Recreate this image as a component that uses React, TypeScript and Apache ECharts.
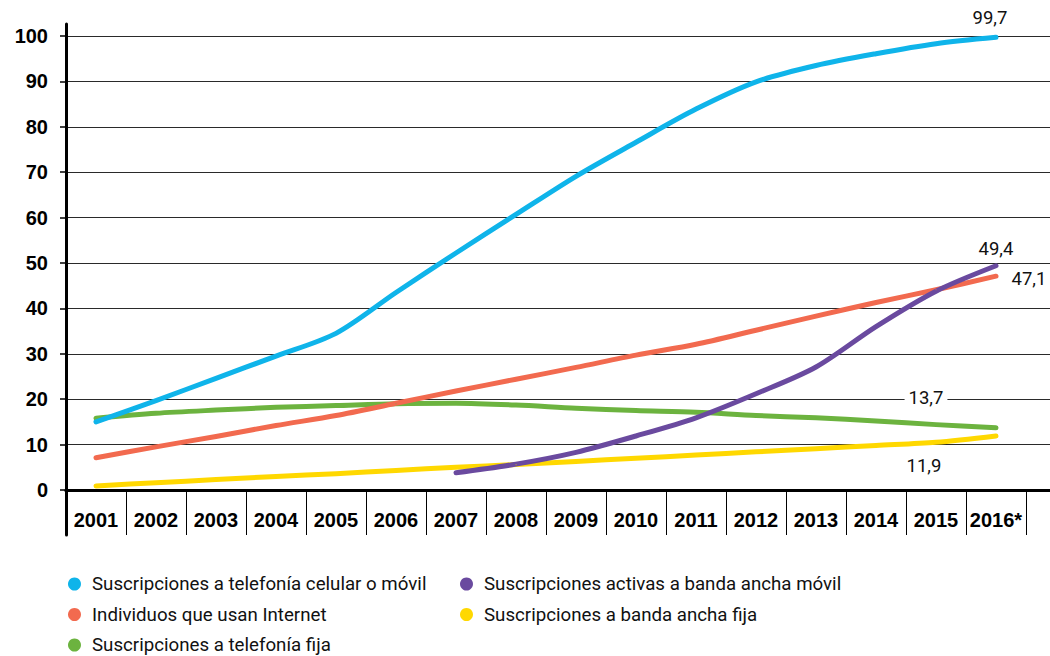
import React, { useEffect, useRef } from "react";
import * as echarts from "echarts";

const years = ["2001", "2002", "2003", "2004", "2005", "2006", "2007", "2008", "2009", "2010", "2011", "2012", "2013", "2014", "2015", "2016*"];

const movil = [15.0, 19.7, 24.6, 29.5, 34.5, 43.5, 52.2, 60.7, 69.1, 76.6, 83.9, 89.9, 93.5, 96.1, 98.3, 99.7];
const internet = [7.1, 9.5, 11.8, 14.2, 16.4, 19.1, 21.8, 24.4, 27.0, 29.7, 32.1, 35.2, 38.3, 41.3, 44.1, 47.1];
const fija = [15.8, 16.9, 17.6, 18.2, 18.6, 19.0, 19.1, 18.7, 18.0, 17.5, 17.1, 16.4, 15.9, 15.2, 14.4, 13.7];
const bandaMovil = [null, null, null, null, null, null, 3.8, 5.7, 8.3, 11.9, 15.9, 21.2, 27.1, 36.0, 43.8, 49.4];
const bandaFija = [0.9, 1.6, 2.3, 3.0, 3.6, 4.3, 5.0, 5.6, 6.3, 7.0, 7.7, 8.4, 9.1, 9.8, 10.5, 11.9];

const names = {
  movil: "Suscripciones a telefonía celular o móvil",
  internet: "Individuos que usan Internet",
  fija: "Suscripciones a telefonía fija",
  bandaMovil: "Suscripciones activas a banda ancha móvil",
  bandaFija: "Suscripciones a banda ancha fija",
};

const colors = {
  movil: "#0fb4ea",
  internet: "#f26a4f",
  fija: "#6cb33f",
  bandaMovil: "#6a4a9f",
  bandaFija: "#ffd800",
};

const NARROW = "Roboto, 'Liberation Sans', sans-serif";
const BOLD = "'Liberation Sans', Arial, sans-serif";

const fmt = (p: any) => String(p.value).replace(".", ",");

function withEndLabel(values: (number | null)[], label: any) {
  return values.map((v, i) =>
    i === values.length - 1
      ? {
          value: v,
          label: {
            show: true,
            formatter: fmt,
            fontFamily: NARROW,
            fontSize: 18.5,
            color: "#111",
            ...label,
          },
        }
      : v
  );
}

function lineSeries(key: keyof typeof names, values: any[], label: any) {
  return {
    type: "line",
    name: names[key],
    xAxisIndex: 0,
    yAxisIndex: 0,
    data: withEndLabel(values, label),
    smooth: 0.3,
    symbol: "circle",
    symbolSize: 1,
    showSymbol: true,
    color: colors[key],
    itemStyle: { color: colors[key] },
    lineStyle: { width: 5, color: colors[key], cap: "round", join: "round" },
    z: 5,
  };
}

export default function App() {
  const ref = useRef<HTMLDivElement>(null);
  useEffect(() => {
    if (!ref.current) return;
    const chart = echarts.init(ref.current, null, { renderer: "svg" });
    const legendText = { fontFamily: NARROW, fontSize: 18.7, lineHeight: 20, color: "#111", padding: [0, 0, 0, 6] };
    const legendBase = {
      orient: "vertical",
      top: 574,
      height: 120,
      padding: 0,
      icon: "circle",
      itemWidth: 13,
      itemHeight: 13,
      itemGap: 10.5,
      textStyle: legendText,
      selectedMode: false,
    };
    chart.setOption({
      animation: false,
      backgroundColor: "#fff",
      grid: [
        { left: 66, right: 24, top: 36, bottom: 166 },
        { left: 66, right: 0, top: 36, bottom: 166 },
        { left: 66, right: 0, top: 24, bottom: 121 },
      ],
      xAxis: [
        {
          type: "category",
          gridIndex: 0,
          data: years,
          boundaryGap: true,
          axisLine: { show: true, lineStyle: { color: "#000", width: 3 } },
          axisTick: { show: true, interval: 0, length: 45, lineStyle: { color: "#000", width: 1 } },
          axisLabel: {
            interval: 0,
            margin: 20,
            fontFamily: BOLD,
            fontWeight: "bold",
            fontSize: 20,
            color: "#000",
          },
          splitLine: { show: false },
          z: 6,
        },
        {
          type: "value",
          gridIndex: 1,
          min: 0,
          max: 1,
          axisLine: { show: true, onZero: false, lineStyle: { color: "#000", width: 3 } },
          axisTick: { show: false },
          axisLabel: { show: false },
          splitLine: { show: false },
          z: 6,
        },
        {
          type: "value",
          gridIndex: 2,
          min: 0,
          max: 1,
          show: false,
        },
      ],
      yAxis: [
        {
          type: "value",
          gridIndex: 0,
          min: 0,
          max: 100,
          interval: 10,
          axisLine: { show: false },
          axisTick: { show: true, length: 6, lineStyle: { color: "#000", width: 1.5 } },
          axisLabel: {
            margin: 18,
            fontFamily: BOLD,
            fontWeight: "bold",
            fontSize: 20,
            color: "#000",
          },
          splitLine: { show: false },
        },
        {
          type: "value",
          gridIndex: 1,
          min: 0,
          max: 100,
          interval: 10,
          axisLine: { show: false },
          axisTick: { show: false },
          axisLabel: { show: false },
          splitLine: { show: true, lineStyle: { color: "#2a2a2a", width: 1 } },
        },
        {
          type: "value",
          gridIndex: 2,
          min: 0,
          max: 1,
          axisLine: { show: true, onZero: false, lineStyle: { color: "#000", width: 3 } },
          axisTick: { show: false },
          axisLabel: { show: false },
          splitLine: { show: false },
          z: 6,
        },
      ],
      legend: [
        { ...legendBase, left: 68, data: [names.movil, names.internet, names.fija] },
        { ...legendBase, left: 460, data: [names.bandaMovil, names.bandaFija] },
      ],
      series: [
        lineSeries("fija", fija, {
          position: "top",
          offset: [-70, -15],
          backgroundColor: "#fff",
          padding: [0, 4],
        }),
        lineSeries("bandaFija", bandaFija, { position: "bottom", offset: [-72, 15] }),
        lineSeries("internet", internet, { position: "right", offset: [10, 3] }),
        lineSeries("movil", movil, { position: "top", offset: [-6, -4] }),
        lineSeries("bandaMovil", bandaMovil, { position: "top", offset: [0, -2] }),
      ],
    });
    return () => chart.dispose();
  }, []);
  return <div ref={ref} style={{ width: 1050, height: 656, position: "absolute", left: 0, top: 0 }} />;
}
